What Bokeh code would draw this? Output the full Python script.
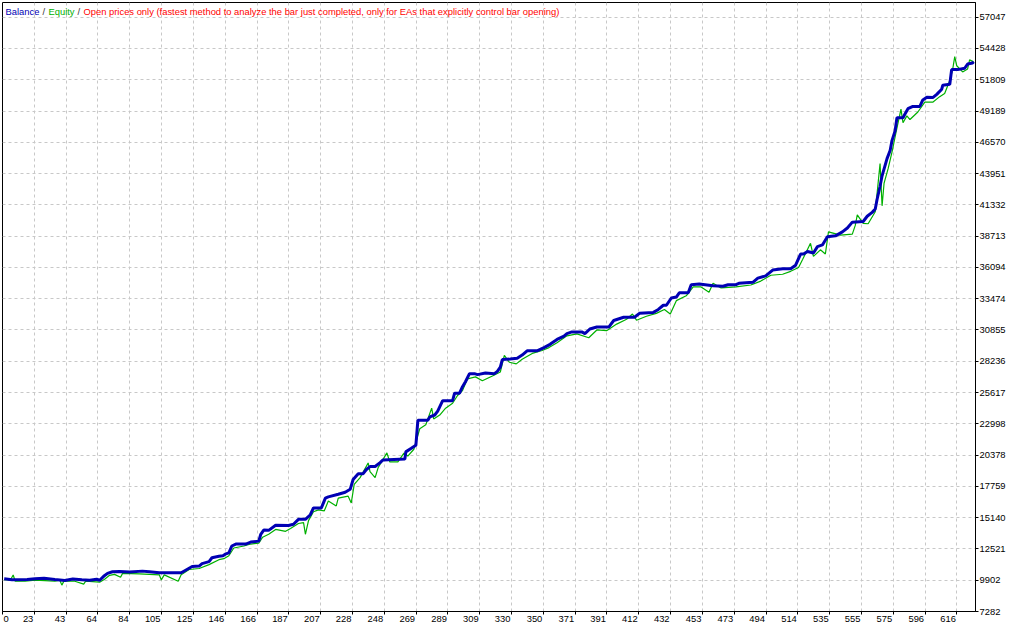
import numpy as np
from bokeh.plotting import figure
from bokeh.models import Range1d, FixedTicker, Label
from bokeh.embed import file_html
from bokeh.resources import INLINE

# ---------------- data ----------------
balance_trade = [0, 5.1, 14.8, 19.9, 25.7, 32.7, 39.1, 44.3, 50.1, 55.2, 59.7, 61.6, 64.2, 66.7, 69.9,
                 74.4, 80.9, 89.2, 93.7, 100.1, 114.2, 116.8, 121.3, 125.8, 127.7, 132.2, 134.1, 138.6,
                 141.2, 143.1, 145.0, 146.9, 149.5, 155.9, 159.1, 164.3, 165.6, 167.5, 170.7, 175.2,
                 183.5, 186.7, 189.9, 194.4, 197.6, 199.6, 204.7, 207.3, 209.2, 215.6, 220.1, 223.3,
                 225.2, 228.5, 231.7, 233.6, 236.1, 239.4, 242.6, 244.5, 258.6, 259.2, 262.5, 265.7,
                 267.0, 273.4, 274.7, 277.9, 279.8, 283.0, 289.4, 290.7, 293.9, 295.8, 297.7, 300.3,
                 303.5, 305.5, 310.6, 316.4, 318.3, 320.2, 321.5, 326.6, 331.1, 334.3, 337.5, 343.9,
                 348.4, 352.3, 356.8, 361.3, 363.2, 366.4, 372.8, 374.8, 378.0, 382.5, 390.2, 393.4,
                 399.8, 406.8, 410.0, 419.0, 422.2, 425.4, 427.4, 430.6, 433.8, 435.7, 441.5, 443.4,
                 448.6, 457.5, 463.9, 467.2, 472.3, 474.2, 483.2, 486.4, 491.5, 496.0, 502.4, 507.6,
                 510.8, 514.0, 515.9, 518.5, 522.3, 524.9, 528.1, 531.3, 536.5, 541.0, 544.2, 547.4,
                 554.4, 557.0, 560.2, 562.2, 563.4, 565.3, 566.6, 568.6, 569.8, 571.8, 573.0, 575.0,
                 576.2, 580.1, 581.4, 583.3, 586.5, 591.0, 592.9, 595.5, 599.3, 601.9, 605.1, 605.8,
                 610.3, 611.5, 615.4, 619.9, 621.8, 625.0, 625.7]
balance_value = [10024, 9942, 9958, 10024, 10065, 9958, 9876, 10008, 9942, 9901, 9983, 9901, 10229, 10474,
                 10613, 10638, 10581, 10663, 10613, 10531, 10531, 10720, 11047, 11088, 11293, 11456,
                 11784, 11906, 11947, 12111, 12193, 12766, 12930, 12930, 13093, 13175, 13748, 14100,
                 14076, 14510, 14485, 14591, 14999, 14999, 15385, 15958, 15958, 16776, 16883, 17104,
                 17268, 17513, 18332, 18823, 18823, 19150, 19420, 19420, 19748, 19969, 20051, 20648,
                 20926, 21197, 23300, 23300, 23570, 23734, 24061, 24937, 24937, 25559, 25559, 26108,
                 26517, 27196, 27196, 27114, 27253, 27196, 27393, 27745, 28375, 28424, 28481, 28751,
                 29111, 29111, 29382, 29652, 30061, 30339, 30552, 30691, 30691, 30552, 30937, 31100,
                 31100, 31649, 31919, 31919, 32246, 32328, 32574, 32926, 32926, 33532, 33614, 33965,
                 33965, 34645, 34702, 34563, 34514, 34645, 34645, 34759, 34841, 35193, 35381, 35872,
                 35987, 35987, 36282, 37215, 37215, 37428, 37297, 37837, 37976, 38655, 38737, 39065,
                 39392, 39883, 39940, 40374, 40701, 40979, 41798, 42887, 43763, 44663, 45203, 45890,
                 46709, 47527, 48620, 48620, 48947, 49381, 49577, 49577, 50118, 50339, 50314, 50584,
                 51018, 51346, 51428, 52655, 52655, 52770, 53122, 53204, 53310]

equity_trade = [0, 3.9, 5.8, 7.1, 13.5, 19.9, 26.3, 32.7, 35.9, 37.2, 38.5, 45.6, 51.3, 52.6, 61.6, 64.8,
                68.0, 71.2, 75.1, 76.4, 87.3, 93.7, 100.1, 101.4, 103.3, 112.3, 114.2, 119.4, 125.8,
                132.2, 138.6, 141.8, 145.0, 148.2, 154.7, 159.1, 164.3, 166.8, 170.7, 175.2, 181.6,
                184.8, 189.9, 193.2, 194.4, 196.4, 199.6, 202.8, 206.6, 209.2, 214.3, 215.6, 222.0,
                224.0, 225.9, 229.7, 234.9, 236.1, 239.4, 241.3, 247.0, 248.9, 254.1, 258.0, 260.5,
                264.4, 268.2, 272.1, 275.9, 277.2, 281.1, 284.9, 289.4, 292.6, 295.8, 299.0, 304.2,
                308.6, 315.1, 320.2, 322.8, 326.0, 330.5, 334.3, 340.8, 347.2, 351.6, 356.8, 363.2,
                369.6, 377.3, 382.5, 388.8, 395.3, 401.7, 405.5, 408.1, 414.5, 420.9, 426.1, 429.9,
                433.8, 440.2, 444.7, 449.8, 454.9, 457.5, 462.7, 472.3, 481.9, 488.3, 494.8, 502.4,
                507.6, 512.7, 515.3, 520.4, 522.3, 526.8, 530.0, 532.0, 539.7, 547.4, 549.3, 550.6,
                554.4, 557.6, 562.2, 565.3, 566.6, 567.9, 570.5, 573.0, 575.6, 578.8, 580.1, 582.6,
                584.6, 589.7, 594.2, 599.3, 603.8, 607.0, 610.3, 612.2, 613.5, 614.8, 618.6, 621.8,
                623.1, 625.7]
equity_value = [9942, 9901, 10335, 9819, 9819, 9901, 9860, 9819, 9901, 9491, 9819, 9819, 9574, 9819, 9737,
                9983, 10311, 10393, 10147, 10474, 10433, 10393, 10352, 9926, 10352, 9819, 10352, 10801,
                10883, 11210, 11620, 11702, 11947, 12602, 12766, 12930, 13011, 13503, 13748, 14157,
                13994, 14239, 14648, 14730, 13748, 14894, 15631, 15794, 15712, 16531, 16122, 16776,
                16940, 16367, 17923, 18494, 19723, 18986, 18494, 19314, 20566, 19805, 19805, 20541,
                20296, 20868, 22586, 22913, 24307, 23406, 23734, 24307, 24716, 25371, 25780, 26762,
                26926, 26599, 27008, 27335, 28726, 28154, 28014, 28399, 28890, 29136, 29381, 29791,
                30364, 30528, 30200, 30855, 30797, 31346, 31755, 32189, 31673, 32001, 32246, 32573,
                32189, 33310, 33719, 34456, 34456, 34022, 34759, 34374, 34456, 34620, 34947, 35438,
                35520, 35765, 36093, 36748, 38115, 37018, 37566, 37214, 39064, 38794, 38876, 39613,
                40488, 39776, 39751, 40758, 44793, 41249, 43157, 44360, 45751, 47391, 49353, 48207,
                48780, 48477, 49107, 49926, 49926, 50392, 50662, 51750, 52708, 53748, 52979, 52463,
                52708, 53470, 53306]

x_tick_labels = ["0", "23", "43", "64", "84", "105", "125", "146", "166", "187", "207", "228", "248",
                 "269", "289", "309", "330", "350", "371", "391", "412", "432", "453", "473", "494",
                 "514", "535", "555", "575", "596", "616"]
y_tick_values = [7282, 9902, 12521, 15140, 17759, 20378, 22998, 25617, 28236, 30855, 33474, 36094,
                 38713, 41332, 43951, 46570, 49189, 51809, 54428, 57047]

title_parts = ["Balance", "/", "Equity", "/",
               "Open prices only (fastest method to analyze the bar just completed, only for EAs that explicitly control bar opening)"]

# ---------------- layout / style ----------------
X_START, X_END = -1.1, 626.9
Y_START, Y_END = 7282, 58275
X_STEP = 20.533
W, H = 1008, 624
BORDER_L = 2
FONT = "Liberation Sans"
FS = "9.4px"
BAL_COLOR = "#0000b4"
EQ_COLOR = "#00b000"

p = figure(width=W, height=H, x_range=Range1d(X_START, X_END), y_range=Range1d(Y_START, Y_END),
           output_backend="svg", toolbar_location=None, y_axis_location="right",
           min_border_left=BORDER_L, min_border_top=2, min_border_right=0, min_border_bottom=0,
           background_fill_color="white", border_fill_color="white")
p.outline_line_color = "black"
p.outline_line_width = 1

xt = [round(X_START + k * X_STEP, 4) for k in range(len(x_tick_labels))]

# grids
for g, ticks in ((p.xgrid, xt), (p.ygrid, y_tick_values)):
    g.ticker = FixedTicker(ticks=ticks)
    g.grid_line_color = "#c8c8c8"
    g.grid_line_dash = "3 3"
    g.grid_line_width = 1

# y axis (right)
ya = p.yaxis[0]
ya.ticker = FixedTicker(ticks=y_tick_values)
ya.axis_line_color = "black"
ya.major_tick_line_color = "black"
ya.major_tick_out = 3
ya.major_tick_in = 0
ya.minor_tick_line_color = None
ya.major_label_standoff = 1
ya.major_label_text_font = FONT
ya.major_label_text_font_size = FS
ya.major_label_text_color = "#000000"

# x axis: tick marks (drawn as "minor" ticks at the grid positions); labels
# sit right-aligned against each tick (the first one left-aligned), as in the original
frame_w = W - BORDER_L - 31
ppu = frame_w / (X_END - X_START)
lab_pos, overrides = [], {}
for k, (t, lab) in enumerate(zip(xt, x_tick_labels)):
    half = len(lab) * 5.23 / 2 + 1
    pos = round(t + (half if k == 0 else -half) / ppu, 4)
    lab_pos.append(pos)
    overrides[pos] = lab

xa = p.xaxis[0]
xa.ticker = FixedTicker(ticks=lab_pos, minor_ticks=xt)
xa.major_label_overrides = overrides
xa.axis_line_color = "black"
xa.major_tick_line_color = None
xa.major_tick_out = 3
xa.major_tick_in = 0
xa.minor_tick_line_color = "black"
xa.minor_tick_out = 3
xa.minor_tick_in = 0
xa.major_label_standoff = 1
xa.major_label_text_font = FONT
xa.major_label_text_font_size = FS
xa.major_label_text_color = "#000000"

# series
p.line(equity_trade, equity_value, line_color=EQ_COLOR, line_width=1.2)
p.line(balance_trade, balance_value, line_color=BAL_COLOR, line_width=3)

# multi-coloured header
title_colors = [BAL_COLOR, "#333333", EQ_COLOR, "#333333", "#ff0000"]
title_offsets = [3, 40, 46, 75, 81]
for txt, col, off in zip(title_parts, title_colors, title_offsets):
    p.add_layout(Label(x=X_START, y=Y_END, x_offset=off, y_offset=-9, text=txt,
                       text_color=col, text_font=FONT, text_font_size=FS,
                       text_baseline="middle", text_align="left"))

open("out.html", "w").write(file_html(p, INLINE))
